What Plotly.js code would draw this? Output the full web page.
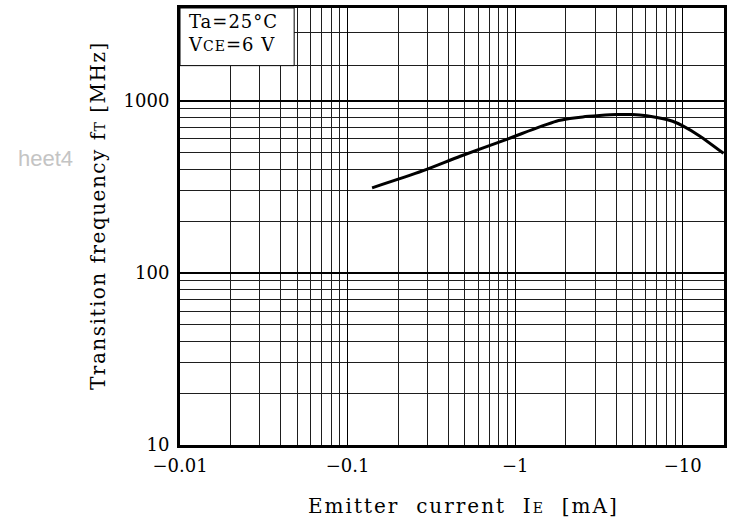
<!DOCTYPE html>
<html>
<head>
<meta charset="utf-8">
<script src="https://cdn.plot.ly/plotly-3.0.1.min.js"></script>
<style>html,body{margin:0;padding:0;background:#fff;}</style>
</head>
<body>
<div id="chart" style="width:733px;height:517px;"></div>
<script>
// Emitter current |IE| (mA) and transition frequency fT (MHz)
const emitterCurrent = [0.14, 0.28, 0.47, 0.89, 1.06, 1.4, 1.76, 2.12, 2.53, 3.19, 4.03, 5.0, 6.1, 7.0, 8.0, 8.7, 10, 12.6, 17.5];
const transitionFreq = [312, 391, 476, 597, 637, 705, 761, 788, 806, 820, 831, 831, 818, 800, 778, 760, 715, 625, 495];

const xMajorTicks = [0.01, 0.1, 1, 10];
const xMajorLabels = ['\u22120.01', '\u22120.1', '\u22121', '\u221210'];
const xMinorTicks = [0.02,0.03,0.04,0.05,0.06,0.07,0.08,0.09,
                     0.2,0.3,0.4,0.5,0.6,0.7,0.8,0.9,
                     2,3,4,5,6,7,8,9];
const yMajorTicks = [10, 100, 1000];
const yMajorLabels = ['10', '100', '1000'];
const yMinorTicks = [20,30,40,50,60,70,80,90,200,300,400,500,600,700,800,900,1600,2500];

const sp = '\u00a0 ';
const xTitle = 'Emitter' + sp + 'current' + sp + 'I<span style="font-size:14px">E</span>' + sp + '[mA]';
const yTitle = 'Transition frequency f<span style="font-size:14px">T</span> [MHz]';
const condText = ['Ta=25°C', 'V<span style="font-size:14px">CE</span>=6\u00a0V'];
const watermark = 'heet4';

const serif = 'DejaVu Serif';

function spaced(t, ls) { return '<span style="letter-spacing:' + ls + 'px">' + t + '</span>'; }

const trace = {
  x: emitterCurrent,
  y: transitionFreq,
  type: 'scatter',
  mode: 'lines',
  line: {color: '#000', width: 3, shape: 'spline', smoothing: 0.7},
  hoverinfo: 'skip'
};

const layout = {
  width: 733, height: 517,
  margin: {l: 180, r: 9, t: 8, b: 72},
  paper_bgcolor: '#fff', plot_bgcolor: '#fff',
  showlegend: false,
  font: {family: serif, color: '#000', size: 18},
  xaxis: {
    type: 'log', range: [-2, 1.246],
    tickvals: xMajorTicks, ticktext: xMajorLabels,
    ticks: '', showline: true, mirror: true, linecolor: '#000', linewidth: 3,
    showgrid: true, gridcolor: '#000', gridwidth: 1.3,
    minor: {tickvals: xMinorTicks, showgrid: true, gridcolor: '#1e1e1e', gridwidth: 1, ticks: ''},
    zeroline: false, tickfont: {family: serif, size: 18}, ticklabelstandoff: 2
  },
  yaxis: {
    type: 'log', range: [1, 3.539],
    tickvals: yMajorTicks, ticktext: yMajorLabels,
    ticks: '', showline: true, mirror: true, linecolor: '#000', linewidth: 3,
    showgrid: true, gridcolor: '#000', gridwidth: 1.8,
    minor: {tickvals: yMinorTicks, showgrid: true, gridcolor: '#1e1e1e', gridwidth: 1, ticks: ''},
    zeroline: false, tickfont: {family: serif, size: 18}, ticklabelstandoff: 4
  },
  shapes: [
    {type: 'rect', xref: 'x', yref: 'y', x0: 0.01, x1: 0.048, y0: 1600, y1: 3460,
     fillcolor: '#fff', line: {color: '#000', width: 1}, layer: 'above'}
  ],
  annotations: [
    {xref: 'paper', yref: 'paper', x: (463 - 180) / 544, y: (445 - 506) / 437, xanchor: 'center', yanchor: 'middle',
     text: spaced(xTitle, 2), showarrow: false, font: {family: serif, size: 20, color: '#000'}},
    {xref: 'paper', yref: 'paper', x: (98 - 180) / 544, y: (445 - 216) / 437, xanchor: 'center', yanchor: 'middle',
     textangle: -90, text: spaced(yTitle, 1.5), showarrow: false, font: {family: serif, size: 20, color: '#000'}},
    {xref: 'paper', yref: 'paper', x: 0.011, y: 0.998, xanchor: 'left', yanchor: 'top',
     text: spaced(condText[0], 1) + '<br>' + spaced(condText[1], 1), align: 'left',
     showarrow: false, font: {family: serif, size: 18, color: '#000'}},
    {xref: 'paper', yref: 'paper', x: (45 - 180) / 544, y: (445 - 158) / 437, xanchor: 'center', yanchor: 'middle',
     text: watermark, showarrow: false, font: {family: 'Liberation Sans', size: 22, color: '#c4c4c4'}}
  ]
};

Plotly.newPlot('chart', [trace], layout, {displayModeBar: false, staticPlot: true});
</script>
</body>
</html>
